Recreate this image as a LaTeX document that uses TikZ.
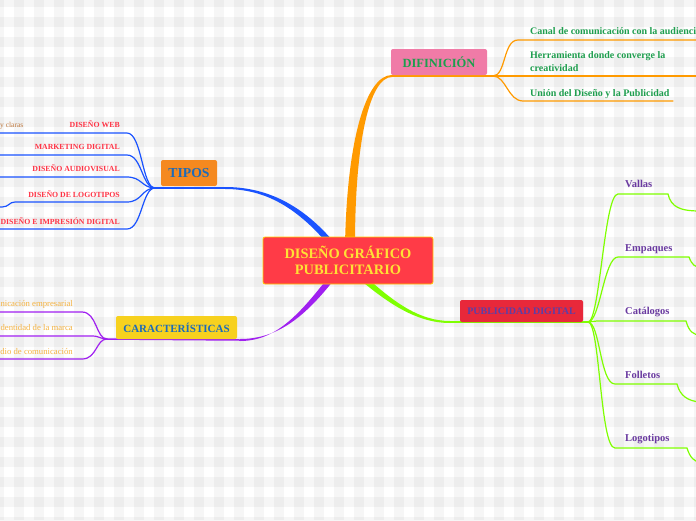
\documentclass[tikz,border=0pt]{standalone}
\usepackage{fontspec}
\setmainfont{Liberation Serif}
\definecolor{corange}{HTML}{FF9A00}
\definecolor{cblue}{HTML}{1A53FF}
\definecolor{cpurple}{HTML}{A020F0}
\definecolor{cgreen}{HTML}{7FFF00}
\definecolor{centfill}{HTML}{FF3B47}
\definecolor{centdraw}{HTML}{FFCC00}
\definecolor{centtext}{HTML}{FFE135}
\definecolor{diffill}{HTML}{F07BA7}
\definecolor{diftext}{HTML}{1E9E4E}
\definecolor{tipfill}{HTML}{F5891F}
\definecolor{tiptext}{HTML}{1E6BB8}
\definecolor{carfill}{HTML}{F7D11E}
\definecolor{pubfill}{HTML}{E8283A}
\definecolor{pubtext}{HTML}{5B3FA8}
\definecolor{tipred}{HTML}{FF3345}
\definecolor{carorange}{HTML}{F5B341}
\definecolor{pubchild}{HTML}{6A3AA0}
\definecolor{brownish}{HTML}{C07A40}
\begin{document}
\begin{tikzpicture}[x=1pt,y=-1pt,
  topicbox/.style={rounded corners=2pt, inner sep=0pt, align=center},
  tipchild/.style={anchor=base east, inner sep=0pt, text=tipred, font=\bfseries\fontsize{7.8}{9}\selectfont},
  carchild/.style={anchor=base east, inner sep=0pt, text=carorange, font=\fontsize{8.7}{10}\selectfont},
  pubkid/.style={anchor=base west, inner sep=0pt, text=pubchild, font=\bfseries\fontsize{10.5}{12.5}\selectfont},
  difkid/.style={anchor=base west, inner sep=0pt, text=diftext, font=\bfseries\fontsize{10}{12.5}\selectfont},
  branch/.style={line width=1.2pt, line cap=round}]
\useasboundingbox (0,0) rectangle (696,520);
\clip (0,0) rectangle (696,520);
% background gingham
\fill[white] (0,0) rectangle (696,520);
\foreach \x in {-6,14,...,694} \fill[black, fill opacity=0.035] (\x,0) rectangle ++(10,520);
\foreach \y in {-3,17,...,517} \fill[black, fill opacity=0.035] (0,\y) rectangle ++(696,10);

% junction coordinates
\coordinate (dj) at (493,76);
\coordinate (tj) at (155,188);
\coordinate (cj) at (107,339);
\coordinate (pj) at (588,322);

% ---- main tapered connectors ----
\fill[corange] (345,245) .. controls (347,140) and (366,75) .. (392,75) -- (392,77) .. controls (370,77) and (355,140) .. (355,245) -- cycle;
\draw[corange, line width=1.5pt] (392,76) -- (dj);
\fill[cblue] (337.3,246.1) .. controls (302.3,203.1) and (265,187) .. (225,187) -- (225,189) .. controls (265,189) and (297.7,206.9) .. (332.7,249.9) -- cycle;
\draw[cblue, line width=1.5pt] (225,188) -- (tj);
\fill[cpurple] (332.3,281.9) .. controls (302,320) and (275,339) .. (240,339) -- (240,341) .. controls (275,341) and (298,316) .. (327.7,278.1) -- cycle;
\draw[cpurple, line width=1.5pt] (240,340) -- (cj);
\fill[cgreen] (366.9,277.7) .. controls (395,303) and (420,321) .. (450,321) -- (450,323) .. controls (420,323) and (393,307) .. (363.1,282.3) -- cycle;
\draw[cgreen, line width=1.5pt] (450,322) -- (pj);

% ---- DIFINICION branches ----
\draw[corange, branch] (dj) .. controls (506,76) and (503,40) .. (518,40) -- (700,40);
\draw[corange, branch] (dj) -- (700,76);
\draw[corange, branch] (dj) .. controls (506,76) and (508,101) .. (523,101) -- (673,101);

% ---- TIPOS branches ----
\draw[cblue, branch] (tj) .. controls (142,188) and (142,133) .. (127,133) -- (-5,133);
\draw[cblue, branch] (tj) .. controls (142,188) and (142,155) .. (127,155) -- (-5,155);
\draw[cblue, branch] (tj) .. controls (142,188) and (142,177) .. (127,177) -- (-5,177);
\draw[cblue, branch] (tj) .. controls (142,188) and (142,202) .. (127,202) -- (15,202) .. controls (9,202) and (9,207) .. (2,207) -- (-5,207);
\draw[cblue, branch] (tj) .. controls (142,188) and (142,229) .. (127,229) -- (-5,229);

% ---- CARACTERISTICAS branches ----
\draw[cpurple, branch] (cj) .. controls (96,339) and (97,312) .. (82,312) -- (-5,312);
\draw[cpurple, branch] (cj) .. controls (100,339) and (100,336) .. (92,336) -- (-5,336);
\draw[cpurple, branch] (cj) .. controls (96,339) and (97,359) .. (82,359) -- (-5,359);

% ---- PUBLICIDAD DIGITAL branches ----
\draw[cgreen, branch] (pj) .. controls (600,322) and (604,194) .. (618,194) -- (668,194) .. controls (671,207) and (680,211) .. (700,211);
\draw[cgreen, branch] (pj) .. controls (600,322) and (604,257) .. (618,257) -- (689,257) .. controls (692,265) and (695,267) .. (700,267);
\draw[cgreen, branch] (pj) .. controls (592,321) .. (597,321) -- (686,321) .. controls (689,332) and (694,335) .. (700,335);
\draw[cgreen, branch] (pj) .. controls (600,322) and (600,384) .. (615,384) -- (677,384) .. controls (680,396) and (688,401) .. (700,402);
\draw[cgreen, branch] (pj) .. controls (600,322) and (600,448) .. (615,448) -- (687,448) .. controls (690,458) and (695,462) .. (700,462);

% ---- topic nodes ----
\node[topicbox, fill=centfill, draw=centdraw, line width=0.8pt, minimum width=170pt, minimum height=47pt, text=centtext, font=\bfseries\fontsize{14.4}{16}\selectfont] (center) at (348,260.5) {DISEÑO GRÁFICO\\PUBLICITARIO};
\node[topicbox, fill=diffill, minimum width=96pt, minimum height=26pt, text=diftext, font=\bfseries\fontsize{12.5}{14}\selectfont] (dif) at (439,62) {DIFINICIÓN};
\node[topicbox, fill=tipfill, minimum width=56pt, minimum height=26pt, text=tiptext, font=\bfseries\fontsize{13.7}{15}\selectfont] (tipos) at (189,173) {TIPOS};
\node[topicbox, fill=carfill, minimum width=121pt, minimum height=23pt, text=tiptext, font=\bfseries\fontsize{11}{13}\selectfont] (car) at (176.5,327.5) {CARACTERÍSTICAS};
\node[topicbox, fill=pubfill, minimum width=123pt, minimum height=22pt, text=pubtext, font=\bfseries\fontsize{10}{12}\selectfont] (pub) at (521.5,311) {PUBLICIDAD DIGITAL};

% ---- DIFINICION children ----
\node[difkid] (d1) at (530,34) {Canal de comunicación con la audiencia};
\node[difkid, anchor=north west, align=left] (d2) at (530,51.6) {Herramienta donde converge la\\creatividad};
\node[difkid] (d3) at (530,96) {Unión del Diseño y la Publicidad};

% ---- TIPOS children ----
\node[tipchild] (t1) at (120,127.5) {DISEÑO WEB};
\node[tipchild] (t2) at (120,149.5) {MARKETING DIGITAL};
\node[tipchild] (t3) at (120,171.5) {DISEÑO AUDIOVISUAL};
\node[tipchild] (t4) at (120,197) {DISEÑO DE LOGOTIPOS};
\node[tipchild] (t5) at (120,224) {DISEÑO E IMPRESIÓN DIGITAL};
\node[anchor=base west, inner sep=0pt, text=brownish, font=\fontsize{7.5}{9}\selectfont] (t1a) at (0,127.5) {y claras};

% ---- CARACTERISTICAS children ----
\node[carchild] (c1) at (73,306) {Comunicación empresarial};
\node[carchild] (c2) at (73,330) {Identidad de la marca};
\node[carchild] (c3) at (73,354) {Medio de comunicación};

% ---- PUBLICIDAD children ----
\node[pubkid] (p1) at (625,187.5) {Vallas};
\node[pubkid] (p2) at (625,251.5) {Empaques};
\node[pubkid] (p3) at (625,314.5) {Catálogos};
\node[pubkid] (p4) at (625,378.5) {Folletos};
\node[pubkid] (p5) at (625,441.5) {Logotipos};
\end{tikzpicture}
\end{document}
